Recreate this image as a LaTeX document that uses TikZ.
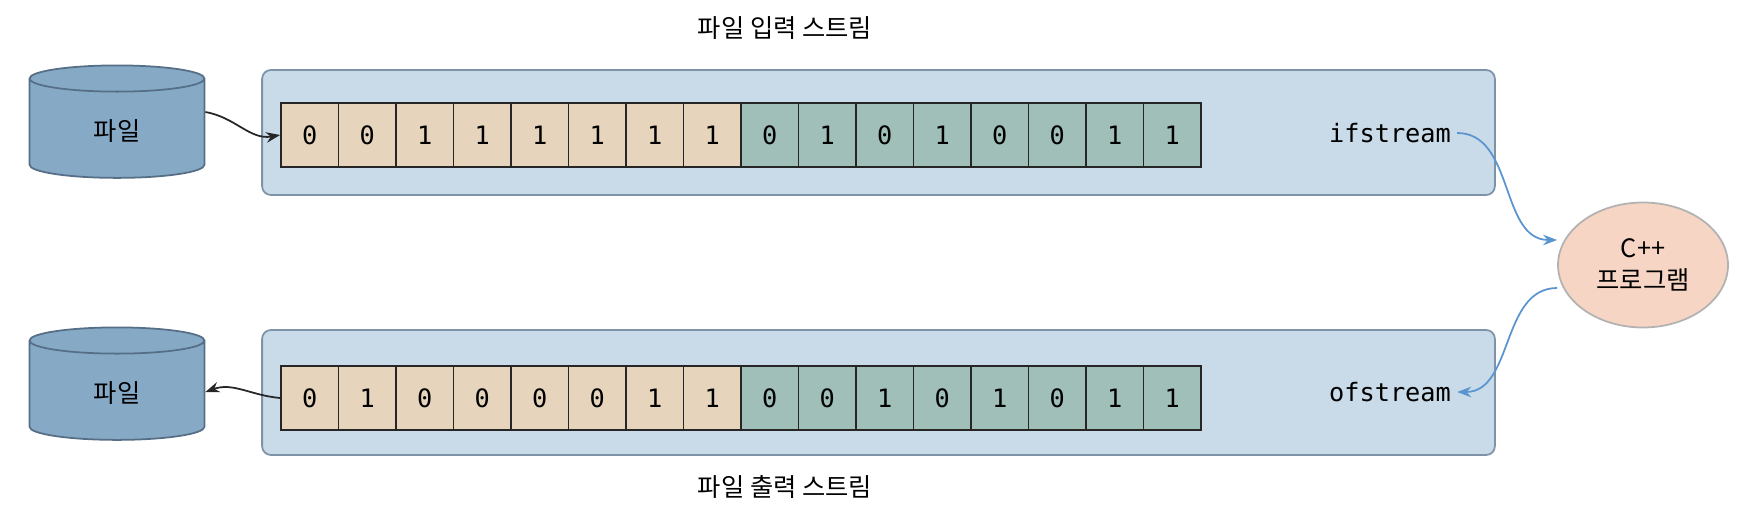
\documentclass[tikz,border=0pt]{standalone}
\usepackage{fontspec}
\setmainfont{Noto Sans CJK KR}
\setmonofont{DejaVu Sans Mono}
\usetikzlibrary{positioning, arrows.meta, shapes.geometric, calc}
\definecolor{streamfill}{HTML}{C9DBE8}
\definecolor{streamline}{HTML}{7F93A8}
\definecolor{bitA}{HTML}{E6D5BC}
\definecolor{bitB}{HTML}{9FBFB8}
\definecolor{diskfill}{HTML}{86A9C6}
\definecolor{diskline}{HTML}{566F86}
\definecolor{progfill}{HTML}{F6D5C4}
\definecolor{flowblue}{HTML}{5B95D0}
\begin{document}
\begin{tikzpicture}[x=0.02cm, y=-0.02cm,
    stream/.style={rectangle, draw=streamline, line width=1pt, rounded corners=5pt,
                   fill=streamfill, minimum width=24.66cm, minimum height=2.5cm},
    bit/.style={rectangle, draw=black!85, line width=1pt, minimum width=1.15cm,
                minimum height=1.28cm, inner sep=0pt, font=\ttfamily\Large},
    disk/.style={cylinder, shape border rotate=90, aspect=0.45, draw=diskline,
                 line width=1pt, fill=diskfill, minimum width=3.5cm,
                 minimum height=2.25cm, font=\Large},
    label/.style={font=\Large},
    flow/.style={-{Stealth[length=8pt]}, line width=1pt, flowblue},
    feed/.style={-{Stealth[length=8pt]}, line width=1pt, black!85}
]
    \useasboundingbox (0,0) rectangle (1740,513);

    % Titles
    \node[label] (intitle) at (785, 28) {파일 입력 스트림};
    \node[label] (outtitle) at (785, 487) {파일 출력 스트림};

    % Streams
    \node[stream] (instream) at (878.5, 132.5) {};
    \node[stream] (outstream) at (878.5, 392.5) {};

    % Bits
    \foreach \b [count=\i] in {0,0,1,1,1,1,1,1,0,1,0,1,0,0,1,1} {
        \ifnum\i<9 \def\c{bitA}\else\def\c{bitB}\fi
        \node[bit, fill=\c] (in\i) at ({281+57.5*(\i-0.5)}, 135) {\b};
    }
    \foreach \b [count=\i] in {0,1,0,0,0,0,1,1,0,0,1,0,1,0,1,1} {
        \ifnum\i<9 \def\c{bitA}\else\def\c{bitB}\fi
        \node[bit, fill=\c] (out\i) at ({281+57.5*(\i-0.5)}, 398) {\b};
    }

    \node[font=\ttfamily\Large] (ifs) at (1390, 133) {ifstream};
    \node[font=\ttfamily\Large] (ofs) at (1390, 392) {ofstream};

    % Files
    \node[disk] (infile) at (117, 131) {\raisebox{-4pt}{파일}};
    \node[disk] (outfile) at (117, 393) {\raisebox{-4pt}{파일}};

    % Program
    \node[ellipse, draw=black!30, line width=1pt, fill=progfill, minimum width=3.4cm,
          minimum height=2.5cm, align=center, font=\Large] (prog) at (1643, 265)
          {C++\\프로그램};

    % Connectors
    \draw[feed] (infile.east |- 0,112) to[out=-10, in=190] (in1.west);
    \draw[feed] (out1.west) to[out=175, in=20] (outfile.east |- 0,392);
    \draw[flow] (ifs.east) to[out=0, in=180] (prog.west |- 0,240);
    \draw[flow] (prog.west |- 0,288) to[out=180, in=0] (ofs.east);
\end{tikzpicture}
\end{document}
